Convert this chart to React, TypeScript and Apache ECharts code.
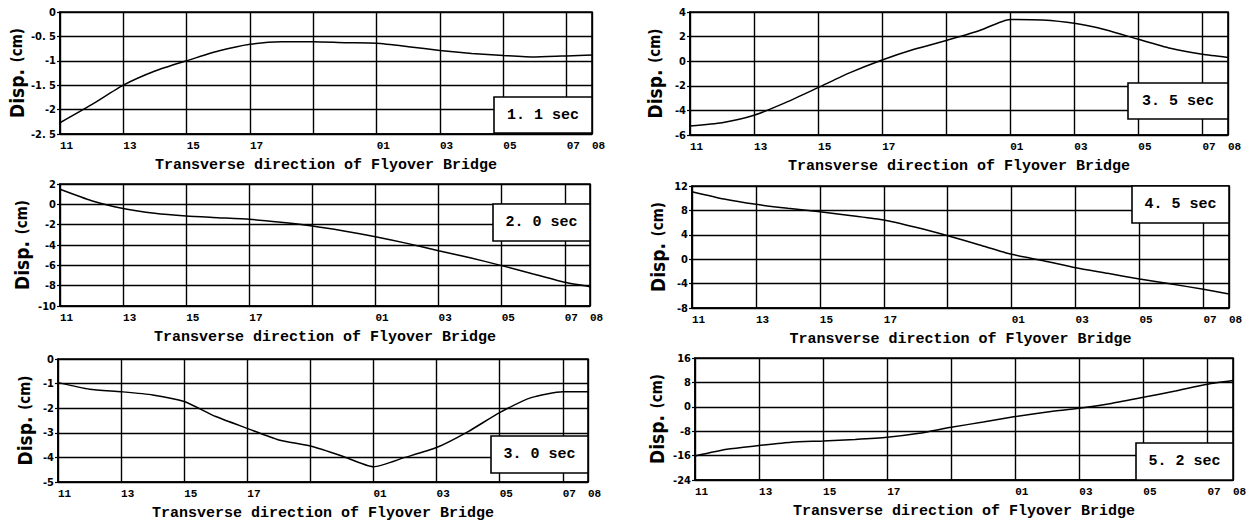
import React, { useEffect, useRef } from "react";
import * as echarts from "echarts";

// Station positions along the transverse direction (bent spacing units)
const stations = [0, 1, 2, 3, 4, 5, 6, 7, 8, 9, 10, 11, 12, 13, 14, 15, 16, 16.8];
const xTickValues = [0, 2, 4, 6, 8, 10, 12, 14, 16, 16.8];
const xTickLabels = ["11", "13", "15", "17", "", "01", "03", "05", "07", "08"];

const timeLabels = ["1. 1 sec", "2. 0 sec", "3. 0 sec", "3. 5 sec", "4. 5 sec", "5. 2 sec"];

const disp11 = [-2.27, -1.9, -1.5, -1.21, -1.0, -0.8, -0.66, -0.61, -0.61, -0.63, -0.64, -0.71, -0.79, -0.85, -0.89, -0.92, -0.9, -0.88];
const disp20 = [1.48, 0.36, -0.4, -0.88, -1.15, -1.31, -1.47, -1.77, -2.13, -2.62, -3.18, -3.84, -4.56, -5.25, -6.03, -6.85, -7.67, -8.1];
const disp30 = [-0.96, -1.23, -1.33, -1.46, -1.73, -2.34, -2.82, -3.29, -3.54, -3.94, -4.38, -4.0, -3.6, -2.95, -2.18, -1.57, -1.33, -1.33];
const disp35 = [-5.27, -5.0, -4.4, -3.35, -2.15, -0.93, 0.1, 0.97, 1.68, 2.45, 3.4, 3.35, 3.08, 2.54, 1.78, 1.05, 0.56, 0.31];
const disp45 = [11.07, 9.87, 9.0, 8.34, 7.79, 7.13, 6.43, 5.23, 3.85, 2.33, 0.8, -0.25, -1.39, -2.31, -3.25, -4.07, -4.93, -5.7];
const disp52 = [-16.1, -13.9, -12.7, -11.6, -11.2, -10.7, -10.0, -8.7, -6.7, -5.0, -3.2, -1.7, -0.5, 1.1, 3.1, 5.2, 7.4, 8.6];

const seriesValues = [disp11, disp20, disp30, disp35, disp45, disp52];

const yMins = [-2.5, -10, -5, -6, -8, -24];
const yMaxs = [0, 2, 0, 4, 12, 16];
const yIntervals = [0.5, 2, 1, 2, 4, 8];

const xName = "Transverse direction of Flyover Bridge";

// layout (pixels)
const grids = [
  { left: 60, top: 12, width: 532, height: 122 },
  { left: 60, top: 184, width: 530, height: 122 },
  { left: 58, top: 359, width: 530, height: 123 },
  { left: 690, top: 12, width: 538, height: 123 },
  { left: 692, top: 186, width: 537, height: 122 },
  { left: 695, top: 358, width: 538, height: 122 },
];
const boxes = [
  { x: 494, y: 97, w: 98, h: 36 },
  { x: 493, y: 204, w: 97, h: 37 },
  { x: 491, y: 436, w: 97, h: 37 },
  { x: 1128, y: 83, w: 100, h: 36 },
  { x: 1132, y: 186, w: 97, h: 37 },
  { x: 1136, y: 443, w: 97, h: 37 },
];
const yNameGaps = [34, 29, 24, 26, 25, 29];

const NARROW = "'Liberation Sans Narrow', 'DejaVu Sans Condensed', 'Arial Narrow', sans-serif";
const MONO = "'Liberation Mono', 'DejaVu Sans Mono', monospace";

function fmtY(v: number): string {
  const r = Math.round(v * 100) / 100;
  return String(r).replace(".", ". ");
}

function fmtX(v: number): string {
  for (let i = 0; i < xTickValues.length; i++) {
    if (Math.abs(xTickValues[i] - v) < 1e-6) return xTickLabels[i];
  }
  return "";
}

export default function App() {
  const ref = useRef<HTMLDivElement>(null);
  useEffect(() => {
    if (!ref.current) return;
    const chart = echarts.init(ref.current, undefined, { renderer: "svg" });
    const option: any = {
      animation: false,
      backgroundColor: "#fff",
      grid: grids.map((g) => ({
        ...g,
        show: true,
        borderColor: "#000",
        borderWidth: 1.6,
        backgroundColor: "transparent",
      })),
      xAxis: grids.map((_, i) => ({
        type: "value",
        gridIndex: i,
        min: 0,
        max: 16.8,
        interval: 2,
        name: xName,
        nameLocation: "middle",
        nameGap: 24,
        nameTextStyle: { fontFamily: MONO, fontWeight: "bold", fontSize: 15, color: "#000" },
        axisLine: { show: true, onZero: false, lineStyle: { color: "#000", width: 1.6 } },
        axisTick: { show: false },
        axisLabel: {
          formatter: fmtX,
          fontFamily: MONO,
          fontWeight: "bold",
          fontSize: 11,
          color: "#000",
          margin: 6,
          align: "left",
          showMinLabel: true,
          showMaxLabel: true,
        },
        splitLine: { show: true, lineStyle: { color: "#000", width: 1.4 } },
      })),
      yAxis: grids.map((_, i) => ({
        type: "value",
        gridIndex: i,
        min: yMins[i],
        max: yMaxs[i],
        interval: yIntervals[i],
        name: "{a|Disp.}  {b|(cm)}",
        nameLocation: "middle",
        nameRotate: 90,
        nameGap: yNameGaps[i],
        nameTextStyle: {
          color: "#000",
          rich: {
            a: { fontFamily: NARROW, fontWeight: "bold", fontSize: 19, color: "#000" },
            b: { fontFamily: NARROW, fontWeight: "bold", fontSize: 15, color: "#000" },
          },
        },
        axisLine: { show: true, onZero: false, lineStyle: { color: "#000", width: 1.6 } },
        axisTick: { show: true, length: 3, lineStyle: { color: "#000", width: 1.2 } },
        axisLabel: {
          formatter: fmtY,
          fontFamily: NARROW,
          fontWeight: "bold",
          fontSize: 11,
          color: "#000",
          margin: 4,
        },
        splitLine: { show: true, lineStyle: { color: "#000", width: 1.4 } },
      })),
      series: seriesValues.map((vals, i) => ({
        type: "line",
        xAxisIndex: i,
        yAxisIndex: i,
        data: stations.map((s, k) => [s, vals[k]]),
        showSymbol: false,
        smooth: 0.2,
        lineStyle: { color: "#000", width: 1.5 },
        z: 5,
      })),
      graphic: boxes.map((b, i) => ({
        type: "group",
        z: 100,
        children: [
          {
            type: "rect",
            shape: { x: b.x, y: b.y, width: b.w, height: b.h },
            style: { fill: "#fff", stroke: "#000", lineWidth: 1.6 },
            z: 100,
          },
          {
            type: "text",
            x: b.x + b.w / 2,
            y: b.y + b.h / 2,
            style: {
              text: timeLabels[i],
              fontFamily: MONO,
              fontWeight: "bold",
              fontSize: 15,
              fill: "#000",
              align: "center",
              verticalAlign: "middle",
            },
            z: 101,
          },
        ],
      })),
    };
    chart.setOption(option);
    return () => chart.dispose();
  }, []);
  return (
    <div
      ref={ref}
      style={{ position: "absolute", left: 0, top: 0, width: 1251, height: 526 }}
    />
  );
}
